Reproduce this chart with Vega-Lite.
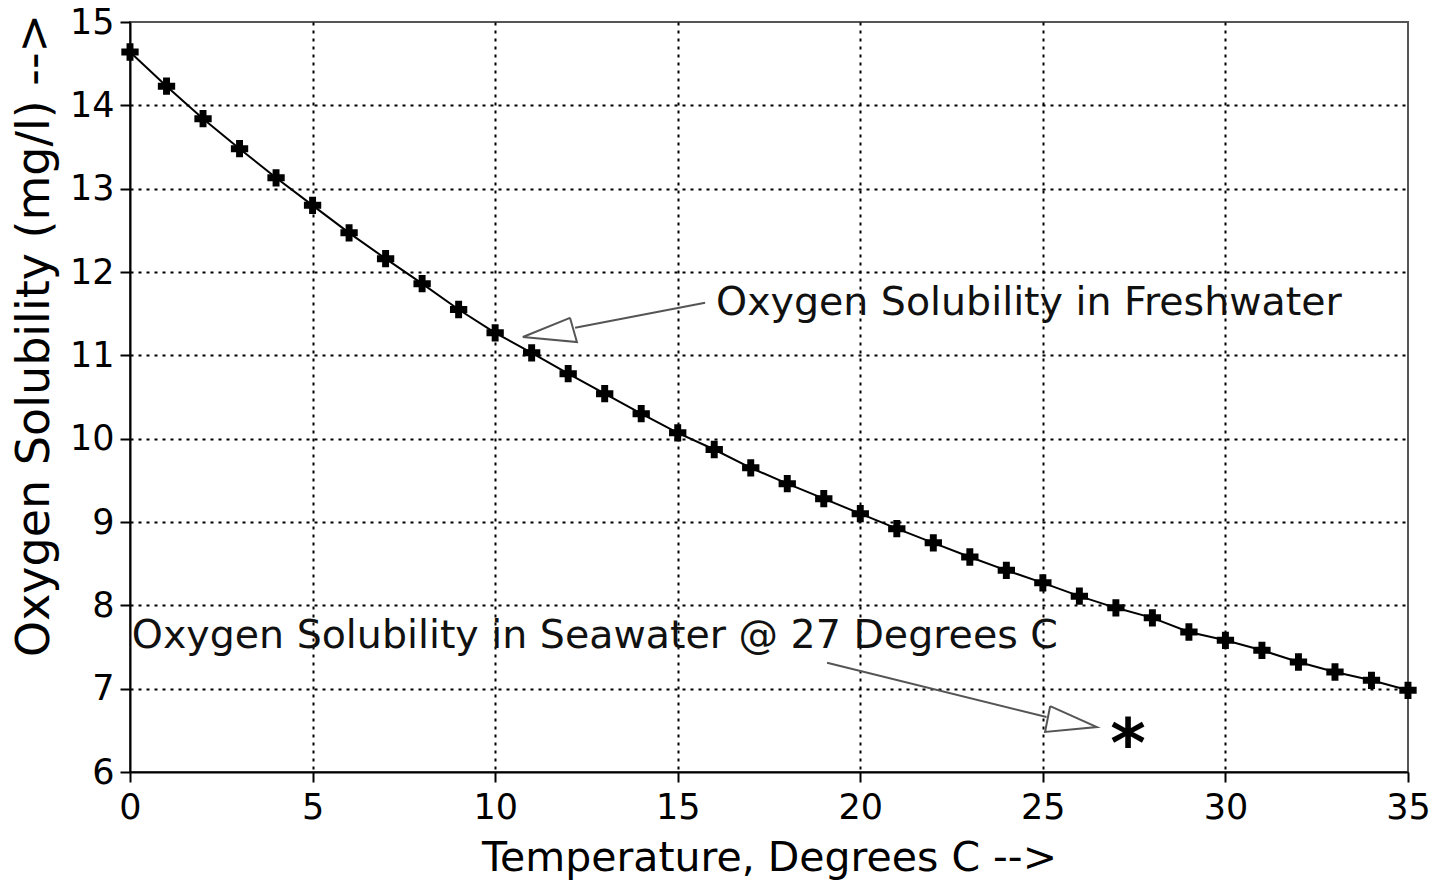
{
  "$schema": "https://vega.github.io/schema/vega-lite/v6.json",
  "width": 1278,
  "height": 750,
  "autosize": "none",
  "padding": {"left": 130, "top": 22, "right": 40, "bottom": 114},
  "background": "white",
  "config": {
    "font": "DejaVu Sans",
    "view": {"stroke": "#555", "strokeWidth": 2}
  },
  "datasets": {
    "fresh": [
      {"t": 0, "o": 14.64}, {"t": 1, "o": 14.23}, {"t": 2, "o": 13.84}, {"t": 3, "o": 13.48},
      {"t": 4, "o": 13.13}, {"t": 5, "o": 12.8}, {"t": 6, "o": 12.47}, {"t": 7, "o": 12.16},
      {"t": 8, "o": 11.86}, {"t": 9, "o": 11.55}, {"t": 10, "o": 11.27}, {"t": 11, "o": 11.03},
      {"t": 12, "o": 10.78}, {"t": 13, "o": 10.54}, {"t": 14, "o": 10.3}, {"t": 15, "o": 10.07},
      {"t": 16, "o": 9.87}, {"t": 17, "o": 9.65}, {"t": 18, "o": 9.46}, {"t": 19, "o": 9.28},
      {"t": 20, "o": 9.1}, {"t": 21, "o": 8.92}, {"t": 22, "o": 8.75}, {"t": 23, "o": 8.58},
      {"t": 24, "o": 8.42}, {"t": 25, "o": 8.27}, {"t": 26, "o": 8.11}, {"t": 27, "o": 7.97},
      {"t": 28, "o": 7.85}, {"t": 29, "o": 7.68}, {"t": 30, "o": 7.58}, {"t": 31, "o": 7.46},
      {"t": 32, "o": 7.32}, {"t": 33, "o": 7.2}, {"t": 34, "o": 7.1}, {"t": 35, "o": 6.98}
    ],
    "arrows": [
      {"g": "f_shaft", "i": 0, "t": 15.75, "o": 11.63},
      {"g": "f_shaft", "i": 1, "t": 12.19, "o": 11.33},
      {"g": "f_head", "i": 0, "t": 12.05, "o": 11.45},
      {"g": "f_head", "i": 1, "t": 10.76, "o": 11.22},
      {"g": "f_head", "i": 2, "t": 12.24, "o": 11.16},
      {"g": "f_head", "i": 3, "t": 12.05, "o": 11.45},
      {"g": "s_shaft", "i": 0, "t": 19.09, "o": 7.31},
      {"g": "s_shaft", "i": 1, "t": 25.1, "o": 6.66},
      {"g": "s_head", "i": 0, "t": 25.2, "o": 6.79},
      {"g": "s_head", "i": 1, "t": 26.48, "o": 6.54},
      {"g": "s_head", "i": 2, "t": 25.06, "o": 6.48},
      {"g": "s_head", "i": 3, "t": 25.2, "o": 6.79}
    ],
    "labels": [
      {"t": 16.05, "o": 11.63, "label": "Oxygen Solubility in Freshwater"},
      {"t": 0.05, "o": 7.63, "label": "Oxygen Solubility in Seawater @ 27 Degrees C"}
    ],
    "sea": [
      {"t": 27.33, "o": 6.47, "label": "*"}
    ]
  },
  "layer": [
    {
      "data": {"name": "fresh"},
      "mark": {"type": "line", "color": "black", "strokeWidth": 2},
      "encoding": {
        "x": {
          "field": "t", "type": "quantitative",
          "scale": {"domain": [0, 35], "nice": false, "zero": false},
          "axis": {
            "title": "Temperature, Degrees C -->",
            "values": [0, 5, 10, 15, 20, 25, 30, 35],
            "format": "d",
            "labelFlush": false,
            "labelFontSize": 35, "labelColor": "black", "labelPadding": 8,
            "titleFontSize": 41, "titleFontWeight": "normal", "titleColor": "black", "titlePadding": 13,
            "domainColor": "black", "domainWidth": 2,
            "tickColor": "black", "tickWidth": 2, "tickSize": 10,
            "grid": true, "gridColor": "black", "gridWidth": 2, "gridDash": [3, 5],
            "gridOpacity": {"condition": {"test": "datum.value == 0 || datum.value == 35", "value": 0}, "value": 1}
          }
        },
        "y": {
          "field": "o", "type": "quantitative",
          "scale": {"domain": [6, 15], "nice": false, "zero": false},
          "axis": {
            "title": "Oxygen Solubility (mg/l) -->",
            "values": [6, 7, 8, 9, 10, 11, 12, 13, 14, 15],
            "format": "d",
            "labelFlush": false,
            "labelFontSize": 35, "labelColor": "black", "labelPadding": 6,
            "titleFontSize": 46, "titleFontWeight": "normal", "titleColor": "black",
            "titleY": 313, "titleX": -72,
            "domainColor": "black", "domainWidth": 2,
            "tickColor": "black", "tickWidth": 2, "tickSize": 10,
            "grid": true, "gridColor": "black", "gridWidth": 2, "gridDash": [3, 5],
            "gridOpacity": {"condition": {"test": "datum.value == 6 || datum.value == 15", "value": 0}, "value": 1}
          }
        }
      }
    },
    {
      "data": {"name": "fresh"},
      "mark": {"type": "point", "shape": "cross", "filled": true, "color": "black", "size": 300, "opacity": 1},
      "encoding": {
        "x": {"field": "t", "type": "quantitative"},
        "y": {"field": "o", "type": "quantitative"}
      }
    },
    {
      "data": {"name": "arrows"},
      "mark": {"type": "line", "color": "#555", "strokeWidth": 2},
      "encoding": {
        "x": {"field": "t", "type": "quantitative"},
        "y": {"field": "o", "type": "quantitative"},
        "detail": {"field": "g"},
        "order": {"field": "i"}
      }
    },
    {
      "data": {"name": "labels"},
      "mark": {"type": "text", "align": "left", "baseline": "middle", "fontSize": 39.5, "color": "#111"},
      "encoding": {
        "x": {"field": "t", "type": "quantitative"},
        "y": {"field": "o", "type": "quantitative"},
        "text": {"field": "label"}
      }
    },
    {
      "data": {"name": "sea"},
      "mark": {"type": "text", "align": "center", "baseline": "middle", "fontSize": 68, "fontWeight": "bold", "color": "black", "dy": 14},
      "encoding": {
        "x": {"field": "t", "type": "quantitative"},
        "y": {"field": "o", "type": "quantitative"},
        "text": {"field": "label"}
      }
    }
  ]
}
